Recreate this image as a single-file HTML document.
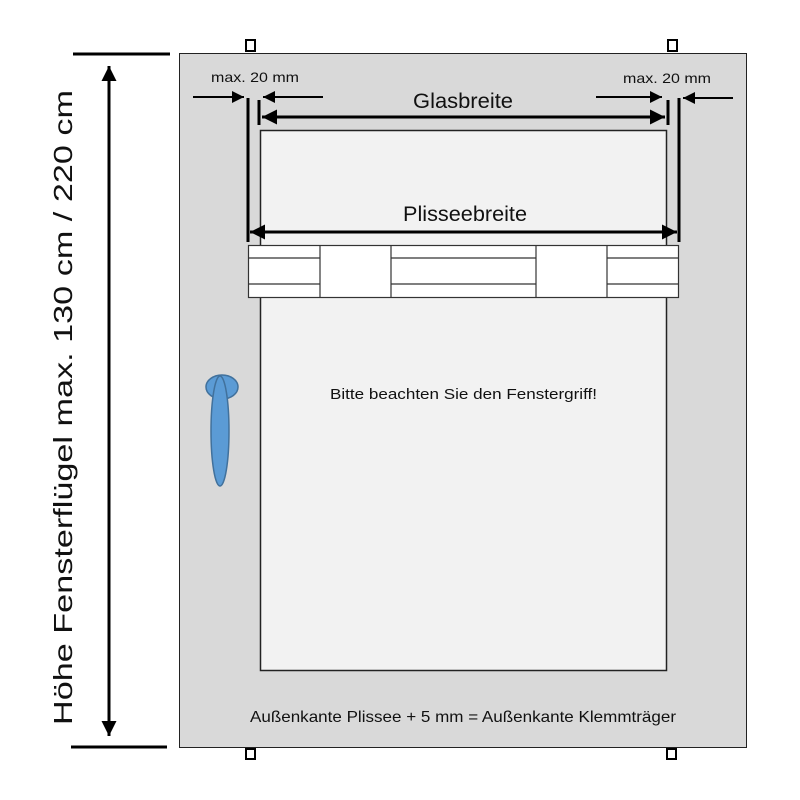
<!DOCTYPE html>
<html><head><meta charset="utf-8"><style>body{margin:0;background:#fff}svg{display:block}</style></head><body>
<svg width="800" height="800" xmlns="http://www.w3.org/2000/svg" font-family="Liberation Sans, DejaVu Sans, sans-serif">
<defs>
<marker id="a" viewBox="0 0 10 10" refX="10" refY="5" markerWidth="5.5" markerHeight="5" orient="auto-start-reverse" markerUnits="strokeWidth"><path d="M0,0L10,5L0,10z" fill="#000"/></marker>
<marker id="s" viewBox="0 0 10 10" refX="10" refY="5" markerWidth="7" markerHeight="6" orient="auto" markerUnits="strokeWidth"><path d="M0,0L10,5L0,10z" fill="#000"/></marker>
</defs>
<rect x="179.5" y="53.5" width="567" height="694" fill="#d9d9d9" stroke="#222" stroke-width="1"/>
<g fill="#fff" stroke="#000" stroke-width="2">
<rect x="246" y="40" width="9" height="11"/><rect x="668" y="40" width="9" height="11"/>
<rect x="246" y="749" width="9" height="10"/><rect x="667" y="749" width="9" height="10"/>
</g>
<rect x="260.5" y="130.5" width="406" height="540" fill="#f2f2f2" stroke="#222" stroke-width="1.5"/>
<g stroke="#333" stroke-width="1.2" fill="#fff">
<rect x="248.5" y="245.5" width="430" height="52"/>
<line x1="320" y1="245" x2="320" y2="297"/><line x1="391" y1="245" x2="391" y2="297"/>
<line x1="536" y1="245" x2="536" y2="297"/><line x1="607" y1="245" x2="607" y2="297"/>
<line x1="248" y1="258" x2="320" y2="258"/><line x1="248" y1="284" x2="320" y2="284"/>
<line x1="391" y1="258" x2="536" y2="258"/><line x1="391" y1="284" x2="536" y2="284"/>
<line x1="607" y1="258" x2="678" y2="258"/><line x1="607" y1="284" x2="678" y2="284"/>
</g>
<g stroke="#000">
<line x1="248" y1="98" x2="248" y2="242" stroke-width="3"/>
<line x1="259" y1="100" x2="259" y2="125" stroke-width="3"/>
<line x1="668" y1="100" x2="668" y2="125" stroke-width="3"/>
<line x1="679" y1="98" x2="679" y2="242" stroke-width="3"/>
<line x1="262" y1="117" x2="665" y2="117" stroke-width="3" marker-start="url(#a)" marker-end="url(#a)"/>
<line x1="250" y1="232" x2="677" y2="232" stroke-width="3" marker-start="url(#a)" marker-end="url(#a)"/>
<line x1="193" y1="97" x2="244" y2="97" stroke-width="2" marker-end="url(#s)"/>
<line x1="323" y1="97" x2="263" y2="97" stroke-width="2" marker-end="url(#s)"/>
<line x1="596" y1="97" x2="662" y2="97" stroke-width="2" marker-end="url(#s)"/>
<line x1="733" y1="98" x2="683" y2="98" stroke-width="2" marker-end="url(#s)"/>
<line x1="73" y1="54" x2="170" y2="54" stroke-width="3"/>
<line x1="71" y1="747" x2="167" y2="747" stroke-width="3"/>
<line x1="109" y1="66" x2="109" y2="736" stroke-width="3" marker-start="url(#a)" marker-end="url(#a)"/>
</g>
<g fill="#5b9bd5" stroke="#41719c" stroke-width="1.5">
<ellipse cx="222" cy="387" rx="16" ry="12"/>
<ellipse cx="220" cy="431" rx="9" ry="55"/>
</g>
<g fill="#111">
<text x="211" y="82" font-size="14" textLength="88" lengthAdjust="spacingAndGlyphs">max. 20 mm</text>
<text x="623" y="83" font-size="14" textLength="88" lengthAdjust="spacingAndGlyphs">max. 20 mm</text>
<text x="413" y="108" font-size="21" textLength="100" lengthAdjust="spacingAndGlyphs">Glasbreite</text>
<text x="403" y="221" font-size="21" textLength="124" lengthAdjust="spacingAndGlyphs">Plisseebreite</text>
<text x="330" y="399" font-size="15" textLength="267" lengthAdjust="spacingAndGlyphs">Bitte beachten Sie den Fenstergriff!</text>
<text x="250" y="722" font-size="16" textLength="426" lengthAdjust="spacingAndGlyphs">Außenkante Plissee + 5 mm = Außenkante Klemmträger</text>
<text transform="translate(72,725) rotate(-90)" font-size="26" textLength="635" lengthAdjust="spacingAndGlyphs">Höhe Fensterflügel max. 130 cm / 220 cm</text>
</g>
</svg>
</body></html>
